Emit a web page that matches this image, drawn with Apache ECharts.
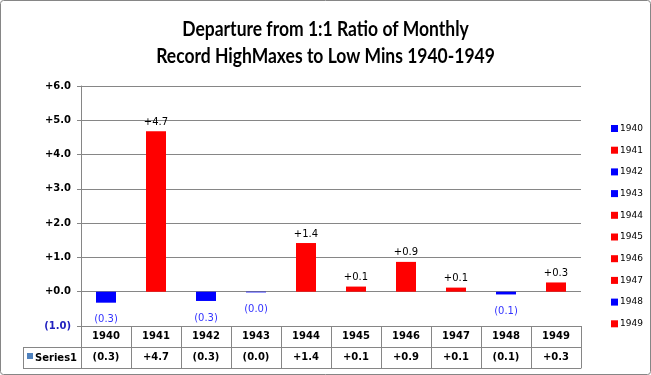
<!DOCTYPE html>
<html>
<head>
<meta charset="utf-8">
<script src="https://cdn.jsdelivr.net/npm/echarts@6/dist/echarts.min.js"></script>
<style>
  html, body { margin: 0; padding: 0; background: #fff; }
  #chart { width: 651px; height: 375px; }
</style>
</head>
<body>
<div id="chart"></div>
<script>
// data
var years = ['1940', '1941', '1942', '1943', '1944', '1945', '1946', '1947', '1948', '1949'];
var values = [-0.32, 4.68, -0.27, -0.02, 1.42, 0.15, 0.87, 0.12, -0.08, 0.27];
var yMin = -1, yMax = 6, yStep = 1;
var titleLines = ['Departure from 1:1 Ratio of Monthly', 'Record HighMaxes to Low Mins 1940-1949'];
var seriesLabel = 'Series1';

var RED = '#FF0000', BLUE = '#0000FF', GRID = '#868686';
var FONT = 'DejaVu Sans';

function fmt(v) {
    return v >= 0 ? '+' + v.toFixed(1) : '(' + Math.abs(v).toFixed(1) + ')';
}

var chart = echarts.init(document.getElementById('chart'));

var series = years.map(function (y, i) {
    var v = values[i];
    var pos = v >= 0;
    return {
        name: y,
        type: 'bar',
        stack: 'all',
        barWidth: 20,
        data: values.map(function (val, j) { return j === i ? val : '-'; }),
        itemStyle: { color: pos ? RED : BLUE },
        label: {
            show: true,
            position: pos ? 'top' : 'bottom',
            distance: pos ? 4 : 12,
            formatter: function (p) { return fmt(p.value); },
            color: pos ? '#000' : '#3333FF',
            fontFamily: FONT,
            fontSize: 10
        },
        emphasis: { disabled: true }
    };
});

var option = {
    animation: false,
    legend: {
        orient: 'vertical',
        left: 606,
        top: 119,
        itemWidth: 7,
        itemHeight: 7,
        itemGap: 12.7,
        icon: 'rect',
        data: years,
        selectedMode: false,
        textStyle: { fontFamily: FONT, fontSize: 9, color: '#000', padding: [0, 0, 0, -3] }
    },
    grid: { left: 81, right: 70, top: 86, bottom: 49, containLabel: false },
    xAxis: [
        {
            type: 'category',
            data: years,
            position: 'bottom',
            axisLine: { show: true, onZero: false, lineStyle: { color: GRID } },
            axisTick: { show: true, length: 42, interval: 0, lineStyle: { color: GRID } },
            axisLabel: { interval: 0, margin: 5, fontFamily: FONT, fontWeight: 'bold', fontSize: 10, color: '#000' }
        },
        {
            type: 'category',
            data: years,
            position: 'bottom',
            offset: 21,
            axisLine: { show: true, onZero: false, lineStyle: { color: GRID } },
            axisTick: { show: false },
            axisLabel: {
                interval: 0, margin: 5, fontFamily: FONT, fontWeight: 'bold', fontSize: 10, color: '#000',
                formatter: function (val, idx) { return fmt(values[idx]); }
            }
        },
        {
            type: 'category',
            data: years,
            position: 'bottom',
            offset: 42,
            axisLine: { show: true, onZero: false, lineStyle: { color: GRID } },
            axisTick: { show: false },
            axisLabel: { show: false }
        }
    ],
    yAxis: {
        type: 'value',
        min: yMin,
        max: yMax,
        interval: yStep,
        axisLine: { show: true, lineStyle: { color: GRID } },
        axisTick: { show: true, length: 4, lineStyle: { color: GRID } },
        splitLine: { show: true, lineStyle: { color: GRID } },
        axisLabel: {
            margin: 10,
            fontFamily: FONT,
            fontWeight: 'bold',
            fontSize: 10,
            formatter: function (v) { return fmt(v); },
            color: function (v) { return Number(v) < 0 ? '#1F1FBF' : '#000'; }
        }
    },
    graphic: [
        {
            type: 'rect',
            shape: { x: 0.5, y: 0.5, width: 650, height: 374, r: 3 },
            style: { fill: 'none', stroke: GRID, lineWidth: 1 },
            silent: true
        },
        // title, squeezed a little to look like the narrow original face
        {
            type: 'text',
            x: 325.5, y: 43,
            scaleX: 0.875,
            style: {
                text: titleLines.join('\n'),
                fontFamily: 'Lato', fontWeight: 'bold', fontSize: 20, lineHeight: 27,
                fill: '#000', align: 'center', verticalAlign: 'middle'
            }
        },
        { type: 'line', shape: { x1: 23, y1: 347.5, x2: 81, y2: 347.5 }, style: { stroke: GRID, lineWidth: 1 } },
        { type: 'line', shape: { x1: 23, y1: 368.5, x2: 81, y2: 368.5 }, style: { stroke: GRID, lineWidth: 1 } },
        { type: 'line', shape: { x1: 23.5, y1: 347, x2: 23.5, y2: 369 }, style: { stroke: GRID, lineWidth: 1 } },
        { type: 'rect', shape: { x: 27, y: 353, width: 6, height: 6 }, style: { fill: '#4F81BD' } },
        {
            type: 'text',
            x: 35, y: 358,
            style: {
                text: seriesLabel,
                fontFamily: FONT, fontWeight: 'bold', fontSize: 10, fill: '#000',
                verticalAlign: 'middle'
            }
        }
    ],
    series: series
};

chart.setOption(option);
</script>
</body>
</html>
